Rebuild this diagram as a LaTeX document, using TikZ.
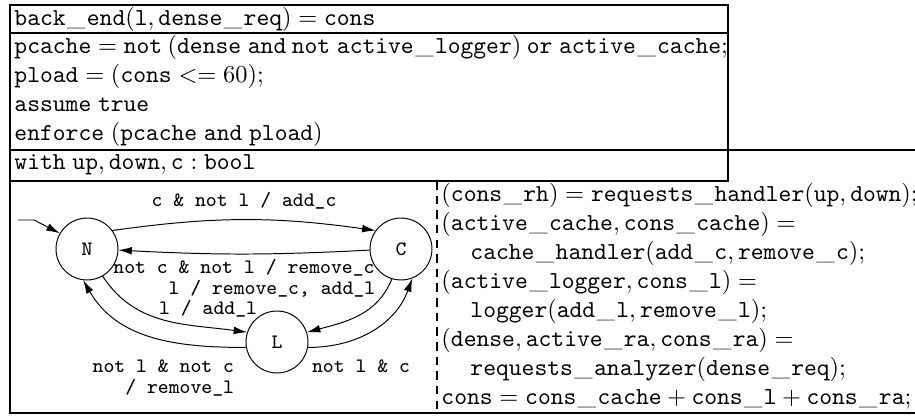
\documentclass[tikz,border=0pt]{standalone}
\usetikzlibrary{arrows.meta}
\newcommand{\tv}[1]{\mathtt{#1}}
\newcommand{\us}{\mbox{\kern0.6pt\textunderscore\kern0.6pt}}
\begin{document}
\begin{tikzpicture}[x=0.41pt,y=0.41pt]
	\tikzstyle{Rule} = [line width=1pt]
	\tikzstyle{Sep} = [line width=0.8pt, dash pattern=on 3.5pt off 2.5pt]
	\tikzstyle{Code} = [anchor=base west, inner sep=0pt]
	\tikzstyle{State} = [circle, draw, minimum size=25.4pt, inner sep=0pt, font=\fontsize{8.4}{8.6}\selectfont\ttfamily]
	\tikzstyle{Trans} = [-{Latex[length=5.5pt,width=3.2pt]}]
	\tikzstyle{Lbl} = [inner sep=0.5pt, font=\fontsize{8.4}{8.6}\selectfont\ttfamily]
	\useasboundingbox (0,0) rectangle (915,-417);
	\draw [Rule] (10,-5) rectangle (728,-181);
	\draw [Rule] (10,-33) -- (728,-33);
	\draw [Rule] (10,-150) -- (915,-150);
	\draw [Rule] (10,-181) -- (10,-413) -- (915,-413);
	\draw [Sep] (437,-181) -- (437,-413);
	\node (sig) at (14,-26) [Code] {$\tv{back\us end}(\tv{l}, \tv{dense\us req}) = \tv{cons}$};
	\node (p1) at (14,-54) [Code] {$\tv{pcache} = \tv{not}\:(\tv{dense}\;\tv{and}\:\tv{not}\;\tv{active\us logger})\:\tv{or}\;\tv{active\us cache};$};
	\node (p2) at (14,-83) [Code] {$\tv{pload} = (\tv{cons} <= 60);$};
	\node (p3) at (14,-112) [Code] {$\tv{assume}\;\tv{true}$};
	\node (p4) at (14,-141) [Code] {$\tv{enforce}\;(\tv{pcache}\;\tv{and}\;\tv{pload})$};
	\node (with) at (14,-170) [Code] {$\tv{with}\;\tv{up}, \tv{down}, \tv{c} : \tv{bool}$};
	\node (e1) at (441,-202) [Code] {$(\tv{cons\us rh}) = \tv{requests\us handler}(\tv{up}, \tv{down});$};
	\node (e2) at (441,-231) [Code] {$(\tv{active\us cache}, \tv{cons\us cache}) =$};
	\node (e3) at (470,-260) [Code] {$\tv{cache\us handler}(\tv{add\us c}, \tv{remove\us c});$};
	\node (e4) at (441,-289) [Code] {$(\tv{active\us logger}, \tv{cons\us l}) =$};
	\node (e5) at (470,-318) [Code] {$\tv{logger}(\tv{add\us l}, \tv{remove\us l});$};
	\node (e6) at (441,-347) [Code] {$(\tv{dense}, \tv{active\us ra}, \tv{cons\us ra}) =$};
	\node (e7) at (470,-376) [Code] {$\tv{requests\us analyzer}(\tv{dense\us req});$};
	\node (e8) at (441,-405) [Code] {$\tv{cons} = \tv{cons\us cache} + \tv{cons\us l} + \tv{cons\us ra};$};
	\node (N) at (87,-249) [State] {N};
	\node (C) at (401,-249) [State] {C};
	\node (L) at (277,-342) [State] {L};
	\coordinate (start) at (18,-220);
	\coordinate (kink) at (34,-220);
	\draw [Trans] (start) -- (kink) -- (N.150);
	\draw [Trans] (N.36) to [out=8, in=172] node [Lbl, above=3.5pt] {c \& not l / add\_c} (C.144);
	\draw [Trans] (C.182) to [out=183, in=-3] node [Lbl, below=1.5pt] {not c \& not l / remove\_c} (N.358);
	\draw [Trans] (N.-60) to [out=-57, in=172] node [Lbl, pos=0.5, anchor=south west, xshift=-3pt, yshift=0.5pt] {l / add\_l} (L.162);
	\draw [Trans] (C.-107) to [out=-112, in=15] node [Lbl, pos=0.08, anchor=east, xshift=-4.5pt, yshift=-0.5pt] {l / remove\_c, add\_l} (L.18);
	\draw [Trans] (L.190) to [out=180, in=-60] node [Lbl, pos=0.05, anchor=north east, align=right, yshift=-4.5pt] {not l \& not c\\/ remove\_l} (N.-97);
	\draw [Trans] (L.-10) to [out=0, in=-110] node [Lbl, pos=0.05, anchor=north west, xshift=-2pt, yshift=-4.5pt] {not l \& c} (C.-69);
\end{tikzpicture}
\end{document}
